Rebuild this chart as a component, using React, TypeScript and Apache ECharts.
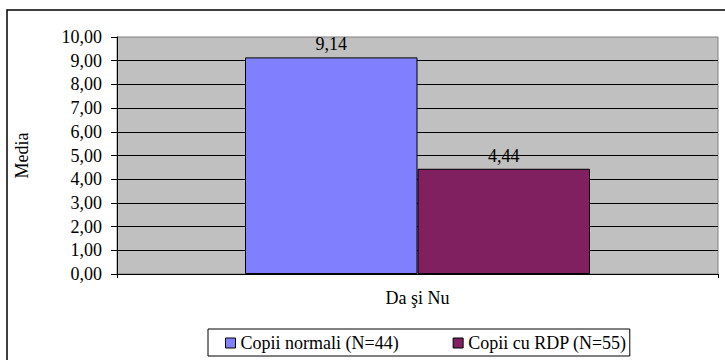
import React, { useEffect, useRef } from "react";
import * as echarts from "echarts";

const categories = ["Da şi Nu"];
const seriesNames = ["Copii normali (N=44)", "Copii cu RDP (N=55)"];
const normalValues = [9.14];
const rdpValues = [4.44];
const seriesColors = ["#8080FF", "#802060"];

const FONT = "Liberation Serif";
const fmt = (v: number) => v.toFixed(2).replace(".", ",");

export default function App() {
  const ref = useRef<HTMLDivElement>(null);

  useEffect(() => {
    document.body.style.margin = "0";
    const chart = echarts.init(ref.current!, null, { renderer: "svg" });
    const seriesData = [normalValues, rdpValues];
    chart.setOption({
      animation: false,
      backgroundColor: "#FFFFFF",
      textStyle: { fontFamily: FONT, color: "#000" },
      graphic: [
        {
          type: "rect",
          shape: { x: 7, y: 10, width: 740, height: 380 },
          style: { fill: "none", stroke: "#000", lineWidth: 1.5 },
          z: 0,
        },
      ],
      grid: {
        left: 117,
        top: 37,
        right: 7,
        bottom: 86,
        show: true,
        backgroundColor: "#C0C0C0",
        borderColor: "#808080",
        borderWidth: 1,
      },
      legend: {
        left: 208,
        top: 329,
        padding: [5, 3, 4, 17],
        itemGap: 54,
        itemWidth: 10,
        itemHeight: 10,
        borderColor: "#000",
        borderWidth: 1,
        itemStyle: { borderColor: "#000", borderWidth: 1 },
        textStyle: { fontFamily: FONT, fontSize: 18, color: "#000" },
        icon: "rect",
        data: seriesNames,
      },
      xAxis: {
        type: "category",
        data: categories,
        axisLine: { show: true, lineStyle: { color: "#000", width: 1 } },
        axisTick: { show: true, length: 4, lineStyle: { color: "#000" } },
        axisLabel: { fontFamily: FONT, fontSize: 18, color: "#000", margin: 15 },
        splitLine: { show: false },
      },
      yAxis: {
        type: "value",
        min: 0,
        max: 10,
        interval: 1,
        name: "Media",
        nameLocation: "middle",
        nameGap: 86,
        nameRotate: 90,
        nameTextStyle: { fontFamily: FONT, fontSize: 18, color: "#000" },
        axisLine: { show: true, lineStyle: { color: "#000", width: 1 } },
        axisTick: { show: true, length: 6, lineStyle: { color: "#000" } },
        axisLabel: {
          fontFamily: FONT,
          fontSize: 18,
          color: "#000",
          margin: 15,
          formatter: (v: number) => fmt(v),
        },
        splitLine: {
          show: true,
          showMaxLine: false,
          lineStyle: { color: "#000", width: 1 },
        },
      },
      series: seriesNames.map((name, i) => ({
        name,
        type: "bar",
        data: seriesData[i],
        barGap: "0%",
        barCategoryGap: "42.6%",
        itemStyle: {
          color: seriesColors[i],
          borderColor: "#000",
          borderWidth: 1,
        },
        label: {
          show: true,
          position: "top",
          distance: 4,
          fontFamily: FONT,
          fontSize: 18,
          color: "#000",
          formatter: (p: any) => fmt(p.value),
        },
      })),
    });
    return () => chart.dispose();
  }, []);

  return <div ref={ref} style={{ width: 725, height: 360 }} />;
}
